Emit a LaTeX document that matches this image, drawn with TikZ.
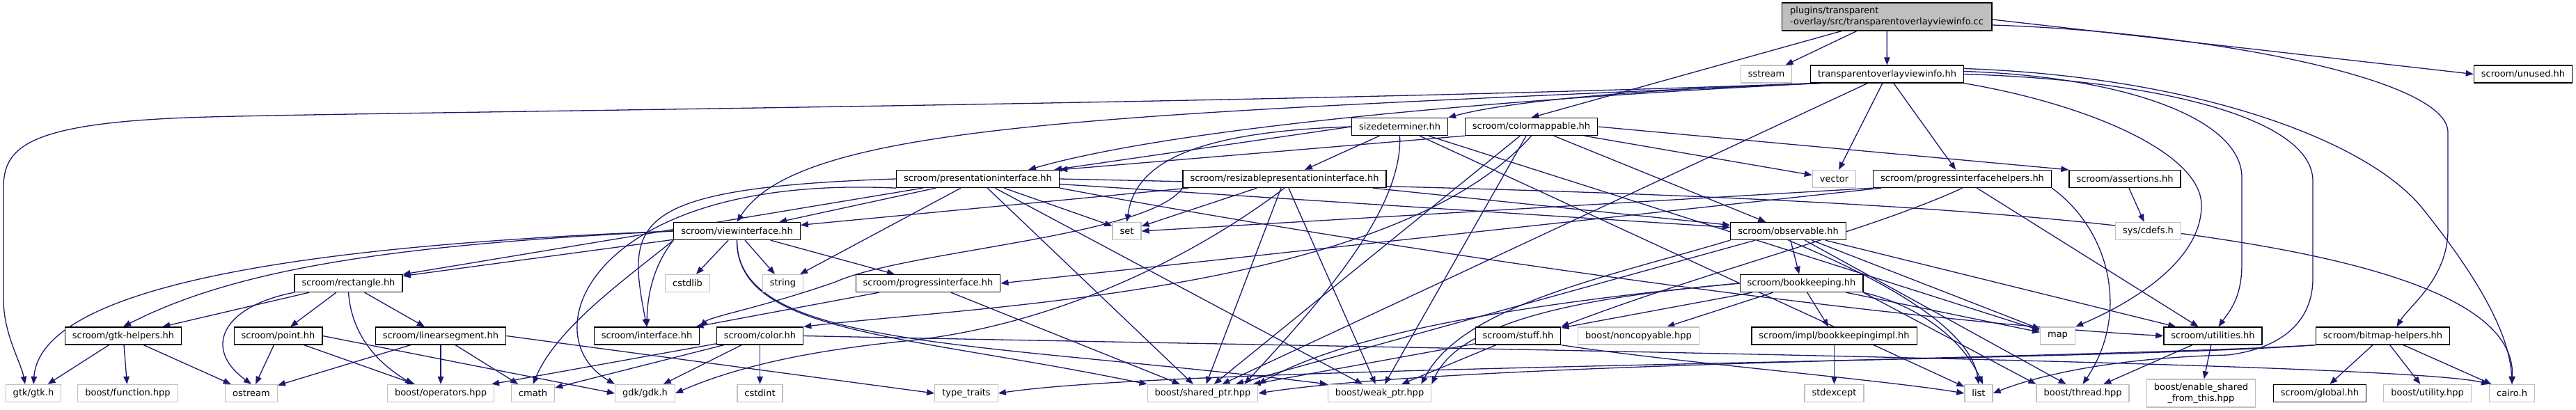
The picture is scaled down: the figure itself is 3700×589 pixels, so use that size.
\documentclass[tikz,border=0pt]{standalone}
\usepackage{fontspec}
\setmainfont{DejaVu Sans}
\usetikzlibrary{positioning,arrows.meta,backgrounds}
\definecolor{depblue}{HTML}{191970}
\definecolor{sysgray}{HTML}{BFBFBF}
\definecolor{rootgray}{HTML}{BFBFBF}

\begin{document}
\begin{tikzpicture}[x=1pt,y=-1pt,
  file/.style={draw=black,fill=white,line width=1.3pt,inner xsep=10.5pt,inner ysep=0pt,minimum height=25pt,font=\fontsize{13}{15.5}\selectfont},
  sys/.style={file,draw=sysgray},
  root/.style={file,fill=rootgray,align=left,minimum height=40pt,inner xsep=12pt},
  dep/.style={-{Triangle[length=11pt,width=8.5pt]},line width=1.3pt,draw=depblue}
]
\useasboundingbox (0,0) rectangle (3700,589);

\node[root] (cc) at (2710,24) {plugins/transparent\\-overlay/src/transparentoverlayviewinfo.cc};

\node[sys] (sstream) at (2537,106.5) {sstream};
\node[file] (tovi) at (2710.5,106.5) {transparentoverlayviewinfo.hh};
\node[file] (unused) at (3624,106.5) {scroom/unused.hh};

\node[file] (sizedet) at (2010.5,182) {sizedeterminer.hh};
\node[file] (cmap) at (2199.5,182) {scroom/colormappable.hh};

\node[file] (presif) at (1404.5,257) {scroom/presentationinterface.hh};
\node[file] (resize) at (1845,257) {scroom/resizablepresentationinterface.hh};
\node[sys] (vector) at (2634.5,257) {vector};
\node[file] (proghelp) at (2818.5,257) {scroom/progressinterfacehelpers.hh};
\node[file] (assert) at (3052,257) {scroom/assertions.hh};

\node[file] (viewif) at (1058.5,332) {scroom/viewinterface.hh};
\node[sys] (set) at (1618.5,332) {set};
\node[file] (observ) at (2568.5,332) {scroom/observable.hh};
\node[sys] (cdefs) at (3085.5,332) {sys/cdefs.h};

\node[file] (rect) at (500.5,407) {scroom/rectangle.hh};
\node[sys] (cstdlib) at (987.5,407) {cstdlib};
\node[sys] (string) at (1124.5,407) {string};
\node[file] (progif) at (1333,407) {scroom/progressinterface.hh};
\node[file] (bookk) at (2587.5,407) {scroom/bookkeeping.hh};

\node[file] (gtkhelp) at (177,482.5) {scroom/gtk-helpers.hh};
\node[file] (pointhh) at (399.5,482.5) {scroom/point.hh};
\node[file] (linseg) at (633,482.5) {scroom/linearsegment.hh};
\node[file] (iface) at (929,482.5) {scroom/interface.hh};
\node[file] (colorhh) at (1091.5,482.5) {scroom/color.hh};
\node[file] (stuff) at (2180.5,482.5) {scroom/stuff.hh};
\node[sys] (noncopy) at (2353.5,482.5) {boost/noncopyable.hpp};
\node[file] (bkimpl) at (2634.5,482.5) {scroom/impl/bookkeepingimpl.hh};
\node[sys] (map) at (2955.5,482.5) {map};
\node[file] (util) at (3178.5,482.5) {scroom/utilities.hh};
\node[file] (bmhelp) at (3422.5,482.5) {scroom/bitmap-helpers.hh};

\node[sys] (gtk) at (48,565) {gtk/gtk.h};
\node[sys] (func) at (183.5,565) {boost/function.hpp};
\node[sys] (ostream) at (361,565) {ostream};
\node[sys] (operators) at (633,565) {boost/operators.hpp};
\node[sys] (cmath) at (765.5,565) {cmath};
\node[sys] (gdk) at (926.5,565) {gdk/gdk.h};
\node[sys] (cstdint) at (1091.5,565) {cstdint};
\node[sys] (typetr) at (1388,565) {type\_traits};
\node[sys] (shptr) at (1727.5,565) {boost/shared\_ptr.hpp};
\node[sys] (wkptr) at (1981.5,565) {boost/weak\_ptr.hpp};
\node[sys] (stdexc) at (2634.5,565) {stdexcept};
\node[sys] (list) at (2842,565) {list};
\node[sys] (thread) at (2991.5,565) {boost/thread.hpp};
\node[sys,align=center,minimum height=40pt] (enshared) at (3161.5,565) {boost/enable\_shared\\\_from\_this.hpp};
\node[file] (global) at (3332,565) {scroom/global.hh};
\node[sys] (utility) at (3486.5,565) {boost/utility.hpp};
\node[sys] (cairo) at (3608,565) {cairo.h};

\begin{pgfonlayer}{background}
\fill[white] (0,0) rectangle (3700,589);

\draw[dep] (cc) -- (sstream);
\draw[dep] (cc) -- (tovi);
\draw[dep] ([xshift=-65pt]cc.south) -- (cmap.north);
\draw[dep] ([yshift=-4pt]cc.east) -- (unused.west);
\draw[dep] ([yshift=-12pt]cc.east) .. controls (3150,45) and (3516,110) .. (3516,190) -- (3516,330) .. controls (3516,400) and (3460,440) .. ([xshift=20pt]bmhelp.north);

\draw[dep] ([xshift=4pt]tovi.south west) .. controls (1800,150) and (600,160) .. (300,168) .. controls (40,175) and (5,210) .. (5,270) -- (5,430) .. controls (5,480) and (30,520) .. ([xshift=-12pt]gtk.north);
\draw[dep] ([xshift=8pt]tovi.south west) .. controls (1600,165) and (1150,175) .. (viewif.north);
\draw[dep] ([xshift=12pt]tovi.south west) .. controls (2200,140) and (1700,180) .. ([xshift=-45pt]presif.north east);
\draw[dep] ([xshift=16pt]tovi.south west) .. controls (2300,130) and (2150,150) .. (sizedet.north east);
\draw[dep] (tovi) -- (vector);
\draw[dep] (tovi) -- (proghelp);
\draw[dep] (tovi) -- (shptr);
\draw[dep] ([yshift=4pt]tovi.east) .. controls (3050,110) and (3220,170) .. (3220,255) -- (3220,380) .. controls (3220,430) and (3200,450) .. ([xshift=8pt]util.north);
\draw[dep] (tovi.east) .. controls (3100,115) and (3322,170) .. (3322,260) -- (3322,400) .. controls (3322,460) and (3280,500) .. (3200,510) .. controls (3000,515) and (2900,550) .. (list.east);
\draw[dep] (tovi.south east) .. controls (3000,150) and (3162,220) .. (3162,295) .. controls (3162,380) and (3050,440) .. (map.north east);
\draw[dep] ([yshift=8pt]tovi.east) .. controls (3150,110) and (3400,200) .. (3480,300) .. controls (3560,400) and (3605,480) .. (cairo.north);

\draw[dep] (sizedet.west) -- ([xshift=-8pt]presif.north east);
\draw[dep] (sizedet) -- (resize);
\draw[dep] (sizedet.west) .. controls (1700,190) and (1630,240) .. (set.north);
\draw[dep] (sizedet.south) .. controls (2015,300) and (1900,430) .. ([xshift=-20pt]shptr.north east);
\draw[dep] (sizedet) -- (map);
\draw[dep] (sizedet) -- (list);

\draw[dep] (cmap.south west) -- (presif.north east);
\draw[dep] (cmap) -- (vector);
\draw[dep] (cmap.east) -- (assert.north west);
\draw[dep] (cmap) -- (observ);
\draw[dep] (cmap.south) .. controls (2000,420) and (1400,440) .. (colorhh.north east);
\draw[dep] (cmap) -- (shptr);
\draw[dep] (cmap) -- (wkptr);

\draw[dep] (presif) -- (viewif);
\draw[dep] (presif) -- (rect);
\draw[dep] (presif) -- (set);
\draw[dep] (presif) -- (string);
\draw[dep] (presif.west) .. controls (900,270) and (900,320) .. (iface.north);
\draw[dep] (presif.south west) .. controls (850,250) and (760,480) .. (gdk.north west);
\draw[dep] (presif) -- (observ);
\draw[dep] (presif) -- (shptr);
\draw[dep] (presif) -- (wkptr);
\draw[dep] (presif.south east) .. controls (2000,360) and (2700,460) .. (util.west);
\draw[dep] (presif.east) .. controls (2600,280) and (3620,300) .. (cairo.north);

\draw[dep] (resize) -- (viewif);
\draw[dep] (resize) -- (set);
\draw[dep] (resize) -- (observ);
\draw[dep] (resize.south west) .. controls (1650,340) and (1300,360) .. (1200,405) .. controls (1100,440) and (1020,455) .. (iface.north east);
\draw[dep] (resize.south) .. controls (1700,380) and (1500,470) .. (1300,490) .. controls (1150,505) and (1050,530) .. (gdk.east);
\draw[dep] (resize) -- (shptr);
\draw[dep] (resize) -- (wkptr);

\draw[dep] (proghelp.south west) -- (set.east);
\draw[dep] ([xshift=12pt]proghelp.south west) -- (progif.east);
\draw[dep] (proghelp.south) .. controls (2690,330) and (2450,390) .. (stuff.north east);
\draw[dep] (proghelp) -- (util);
\draw[dep] (proghelp.south east) .. controls (3030,330) and (3060,450) .. (thread.north);

\draw[dep] (assert) -- (cdefs);

\draw[dep] (viewif.west) .. controls (500,350) and (60,400) .. (gtk.north);
\draw[dep] (viewif.west) .. controls (600,350) and (350,380) .. (gtkhelp.north);
\draw[dep] (viewif) -- (rect);
\draw[dep] (viewif) -- (cstdlib);
\draw[dep] (viewif) -- (string);
\draw[dep] (viewif) -- (progif);
\draw[dep] (viewif.south west) .. controls (940,380) and (930,420) .. (iface.north);
\draw[dep] (viewif.south west) .. controls (900,400) and (800,470) .. (cmath.north);
\draw[dep] (viewif.south) .. controls (1058,480) and (1300,480) .. (shptr.north west);
\draw[dep] (viewif.south) .. controls (1058,500) and (1400,490) .. (wkptr.north west);

\draw[dep] (rect) -- (gtkhelp);
\draw[dep] (rect) -- (pointhh);
\draw[dep] (rect) -- (linseg);
\draw[dep] (rect.south west) .. controls (320,440) and (290,500) .. (ostream.north);
\draw[dep] (rect.south) .. controls (505,480) and (540,520) .. ([xshift=-40pt]operators.north);

\draw[dep] (gtkhelp) -- (gtk);
\draw[dep] (gtkhelp) -- (func);
\draw[dep] (gtkhelp) -- (ostream);

\draw[dep] (pointhh) -- (ostream);
\draw[dep] (pointhh) -- (operators);
\draw[dep] (pointhh.east) -- (gdk.west);

\draw[dep] (linseg) -- (ostream);
\draw[dep] (linseg) -- (operators);
\draw[dep] (linseg) -- (cmath);
\draw[dep] (linseg.east) -- (typetr.west);

\draw[dep] (colorhh) -- (operators);
\draw[dep] (colorhh) -- (cmath);
\draw[dep] (colorhh) -- (gdk);
\draw[dep] (colorhh) -- (cstdint);
\draw[dep] (colorhh.east) .. controls (2000,500) and (3450,520) .. (cairo.north west);

\draw[dep] (observ) -- (bookk);
\draw[dep] (observ) -- (map);
\draw[dep] (observ.south) .. controls (2700,400) and (2830,470) .. (list.north);
\draw[dep] (observ) -- (thread);
\draw[dep] (observ) -- (util);
\draw[dep] (observ) -- (shptr);
\draw[dep] (observ.south west) .. controls (2300,400) and (2100,440) .. ([xshift=-15pt]wkptr.north east);

\draw[dep] (progif) -- (iface);
\draw[dep] (progif) -- (shptr);

\draw[dep] (bookk) -- (bkimpl);
\draw[dep] (bookk) -- (stuff);
\draw[dep] (bookk) -- (noncopy);
\draw[dep] (bookk) -- (map);
\draw[dep] (bookk.south east) .. controls (2760,440) and (2820,490) .. ([xshift=6pt]list.north);
\draw[dep] (bookk.south east) -- (thread.north west);
\draw[dep] (bookk.west) .. controls (2250,430) and (1950,470) .. (shptr.north east);
\draw[dep] (bookk.west) .. controls (2300,425) and (2100,455) .. (wkptr.north east);

\draw[dep] (stuff) -- (shptr);
\draw[dep] (stuff) -- (wkptr);
\draw[dep] (stuff.south east) .. controls (2400,520) and (2700,545) .. (list.west);

\draw[dep] (bkimpl) -- (stdexc);

\draw[dep] (util) -- (thread);
\draw[dep] (util) -- (enshared);

\draw[dep] (bmhelp) -- (global);
\draw[dep] (bmhelp) -- (utility);
\draw[dep] (bmhelp) -- (cairo);
\draw[dep] (bmhelp.south west) .. controls (3000,515) and (2100,520) .. (shptr.east);
\draw[dep] (bmhelp.south west) .. controls (3000,520) and (1700,525) .. (typetr.east);
\end{pgfonlayer}
\end{tikzpicture}
\end{document}
